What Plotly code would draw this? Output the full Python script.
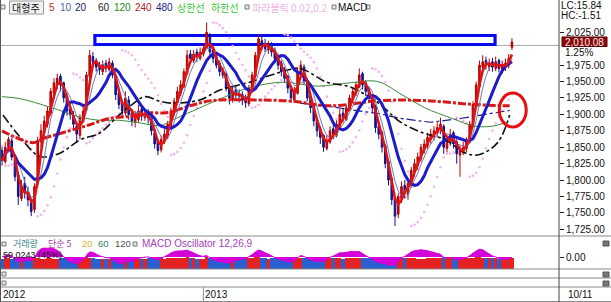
import numpy as np
import pandas as pd
import plotly.graph_objects as go

W, H = 611, 302

# ---------------- data (2-trading-day bars, Jul 2012 .. 10/11 2013) ----------------
closes = [1830, 1850, 1862, 1835, 1805, 1775, 1790, 1780, 1770, 1752,
          1790, 1860, 1875, 1890, 1905, 1935, 1948, 1955, 1945, 1925,
          1905, 1900, 1885, 1870, 1895, 1905, 1960, 1990, 1980, 1972,
          1968, 1975, 1970, 1980, 1960, 1930, 1915, 1905, 1925, 1900,
          1890, 1895, 1905, 1898, 1900, 1895, 1875, 1855, 1845, 1862,
          1870, 1885, 1905, 1920, 1935, 1945, 1965, 1990, 1985, 1992,
          1988, 1995, 2000, 2025, 1995, 1985, 1975, 1965, 1960, 1940,
          1925, 1935, 1930, 1928, 1922, 1918, 1940, 1960, 1990, 2015,
          2005, 2000, 2005, 1995, 1985, 1975, 1965, 1955, 1940, 1925,
          1935, 1965, 1975, 1950, 1925, 1910, 1890, 1875, 1865, 1850,
          1860, 1875, 1870, 1885, 1900, 1895, 1910, 1925, 1935, 1945,
          1960, 1945, 1935, 1925, 1910, 1880, 1870, 1850, 1825, 1800,
          1770, 1745, 1775, 1790, 1780, 1795, 1815, 1825, 1835, 1850,
          1855, 1865, 1870, 1875, 1880, 1885, 1850, 1860, 1870, 1855,
          1840, 1845, 1850, 1860, 1885, 1915, 1945, 1975, 1980, 1975,
          1978, 1972, 1980, 1970, 1975, 1978, 1985, 2010.08]
opens = [1845, 1828, 1850, 1860, 1832, 1808, 1772, 1795, 1782, 1768,
         1755, 1795, 1858, 1872, 1885, 1902, 1932, 1945, 1958, 1948,
         1928, 1908, 1898, 1882, 1868, 1892, 1908, 1958, 1988, 1982,
         1975, 1965, 1978, 1968, 1978, 1958, 1932, 1918, 1902, 1922,
         1902, 1888, 1892, 1908, 1895, 1902, 1895, 1872, 1858, 1846,
         1860, 1868, 1882, 1902, 1918, 1932, 1942, 1962, 1992, 1982,
         1995, 1985, 1992, 2002, 2020, 1998, 1988, 1978, 1966, 1962,
         1942, 1922, 1938, 1932, 1930, 1925, 1916, 1938, 1958, 1988,
         2012, 2008, 1998, 2006, 1998, 1988, 1978, 1968, 1958, 1942,
         1922, 1932, 1962, 1972, 1952, 1928, 1912, 1892, 1878, 1868,
         1848, 1858, 1878, 1868, 1882, 1902, 1892, 1908, 1922, 1932,
         1942, 1962, 1948, 1938, 1928, 1912, 1882, 1872, 1852, 1828,
         1802, 1772, 1748, 1772, 1792, 1778, 1792, 1812, 1822, 1832,
         1848, 1852, 1862, 1868, 1872, 1878, 1882, 1848, 1858, 1872,
         1858, 1838, 1842, 1848, 1858, 1882, 1912, 1942, 1972, 1982,
         1972, 1980, 1970, 1982, 1968, 1972, 1975, 2002]
highs = [1852, 1858, 1866, 1864, 1838, 1812, 1800, 1805, 1790, 1772,
         1795, 1866, 1885, 1898, 1912, 1940, 1955, 1962, 1962, 1950,
         1932, 1915, 1905, 1888, 1900, 1912, 1965, 1998, 1995, 1986,
         1980, 1982, 1983, 1986, 1982, 1962, 1936, 1922, 1935, 1928,
         1908, 1905, 1915, 1912, 1908, 1908, 1898, 1878, 1862, 1868,
         1878, 1890, 1910, 1925, 1942, 1952, 1970, 1998, 1998, 1998,
         2000, 2002, 2006, 2040, 2024, 2002, 1992, 1982, 1972, 1965,
         1945, 1942, 1945, 1938, 1935, 1930, 1945, 1965, 1995, 2022,
         2020, 2015, 2012, 2010, 2002, 1992, 1982, 1972, 1960, 1945,
         1942, 1972, 1982, 1976, 1955, 1932, 1915, 1896, 1882, 1870,
         1868, 1882, 1885, 1892, 1908, 1910, 1915, 1930, 1942, 1950,
         1970, 1965, 1952, 1942, 1930, 1915, 1888, 1875, 1855, 1830,
         1805, 1775, 1780, 1798, 1800, 1802, 1820, 1832, 1842, 1855,
         1862, 1872, 1878, 1882, 1888, 1895, 1885, 1868, 1878, 1875,
         1862, 1852, 1858, 1865, 1890, 1920, 1950, 1982, 1990, 1988,
         1985, 1986, 1988, 1985, 1982, 1985, 1992, 2016]
lows = [1822, 1825, 1842, 1830, 1798, 1762, 1768, 1772, 1760, 1745,
        1750, 1790, 1850, 1865, 1880, 1898, 1925, 1938, 1935, 1918,
        1898, 1892, 1878, 1856, 1862, 1888, 1905, 1955, 1972, 1965,
        1960, 1960, 1964, 1965, 1955, 1922, 1908, 1896, 1898, 1892,
        1882, 1880, 1888, 1890, 1890, 1886, 1868, 1848, 1838, 1842,
        1855, 1862, 1880, 1898, 1915, 1928, 1940, 1960, 1978, 1978,
        1980, 1982, 1988, 2000, 1990, 1978, 1970, 1958, 1955, 1935,
        1915, 1918, 1922, 1918, 1914, 1910, 1912, 1935, 1955, 1985,
        1998, 1995, 1992, 1988, 1978, 1968, 1958, 1948, 1932, 1918,
        1918, 1930, 1958, 1945, 1920, 1902, 1882, 1866, 1855, 1843,
        1845, 1855, 1862, 1865, 1878, 1888, 1890, 1905, 1918, 1928,
        1940, 1938, 1928, 1918, 1902, 1872, 1862, 1842, 1818, 1792,
        1762, 1730, 1742, 1765, 1772, 1770, 1788, 1805, 1815, 1828,
        1840, 1848, 1855, 1860, 1865, 1870, 1840, 1842, 1852, 1848,
        1825, 1805, 1838, 1842, 1855, 1880, 1910, 1940, 1968, 1968,
        1966, 1965, 1966, 1964, 1962, 1966, 1970, 1998]
volumes = [380, 410, 395, 360, 420, 440, 385, 370, 405, 430, 445, 420, 390, 375, 400, 415, 385, 370, 395, 410,
           400, 380, 420, 435, 410, 390, 445, 430, 395, 380, 370, 385, 375, 390, 410, 425, 405, 395, 380, 400,
           390, 375, 385, 380, 370, 395, 415, 430, 420, 400, 385, 395, 410, 420, 405, 395, 415, 440, 410, 395,
           380, 390, 375, 450, 430, 400, 390, 385, 395, 420, 430, 405, 390, 385, 395, 400, 410, 425, 440, 445,
           420, 400, 390, 395, 405, 400, 410, 415, 425, 430, 410, 420, 405, 415, 430, 440, 425, 420, 430, 445,
           420, 410, 400, 395, 405, 390, 400, 410, 415, 420, 430, 410, 400, 405, 420, 440, 445, 450, 455, 460,
           465, 470, 440, 425, 415, 405, 400, 395, 390, 385, 390, 395, 400, 405, 410, 420, 435, 415, 400, 410,
           425, 440, 415, 400, 420, 430, 445, 450, 425, 410, 400, 395, 405, 390, 400, 395, 410, 430]

# long moving averages (bar index, value)
ma60_idx = [0.3, 5.5, 11.7, 17.8, 24, 30.2, 35.4, 40, 44, 48.6, 52.6, 60.9, 67.1, 76.3, 85.5, 91.7, 100, 107, 115.7, 122.5, 129.5, 136.3, 143.1, 147.1, 152.6, 156.3]
ma60_val = [1899, 1866, 1836, 1841, 1861, 1872, 1896, 1915, 1927, 1920, 1917, 1922, 1937, 1949, 1964, 1970, 1949, 1942, 1918, 1889, 1872, 1862, 1840, 1839, 1857, 1899]
ma120_idx = [0, 5.5, 14.8, 24, 30.2, 36.3, 42.5, 48.6, 53.2, 60.9, 65.5, 71.7, 76.3, 86.5, 97, 107, 115.7, 123.1, 130.2, 138.5, 145.6, 150.9, 154.8]
ma120_val = [1927, 1924, 1911, 1896, 1891, 1891, 1887, 1883, 1893, 1910, 1920, 1933, 1941, 1949, 1943, 1948, 1950, 1930, 1910, 1894, 1882, 1882, 1887]
ma240_idx = [0, 9.5, 13.2, 20, 26.2, 33.2, 39.4, 44, 51.1, 58.5, 64.6, 77.9, 89.6, 101, 116.3, 130.2, 145.6, 156.3]
ma240_val = [1875, 1857, 1864, 1874, 1883, 1894, 1897, 1902, 1903, 1914, 1921, 1922, 1920, 1913, 1921, 1921, 1915, 1913]
ma480_idx = [91.7, 101, 110.2, 116.3, 122.5, 131.8, 140.1, 147.1, 156.3]
ma480_val = [1917, 1912, 1905, 1901, 1894, 1888, 1893, 1899, 1906]

year_labels = ["2012", "2013"]
year_idx = [0, 62]
last_date_label = "10/11"
price_ticks = [1725, 1750, 1775, 1800, 1825, 1850, 1875, 1900, 1925, 1950, 1975, 2025]
ref_price = 2005
last_price_text = "2,010.08"
change_text = "1.25%"
lc_text = "LC:15.84"
hc_text = "HC:-1.51"

# ---------------- geometry ----------------
AX_X = 559
X0, DX = 2.0, 3.248            # pixel of bar 0, pixels per bar
K = 0.6567                     # pixels per index point
P_REF, Y_REF = 2025, 32.3      # price at pixel row
MAIN_B, SUB1_B, SUB2_B, SUB3_B = 236, 269, 278, 287


def px(x):
    return x / W


def py(y):
    return 1 - y / H


xr = [-X0 / DX, (AX_X - X0) / DX]
yr = [P_REF - (MAIN_B - Y_REF) / K, P_REF + Y_REF / K]

n = len(closes)
idx = list(range(n))
s = pd.Series(closes, dtype=float)
ma5 = s.rolling(3, min_periods=1).mean()
ma10 = s.rolling(5, min_periods=1).mean()
ma20 = s.rolling(10, min_periods=1).mean()


def psar(h, l, af0=0.02, afmax=0.2):
    out = [h[0]]
    bull, af, ep = False, af0, l[0]
    for i in range(1, len(h)):
        prev = out[-1]
        sv = prev + af * (ep - prev)
        if bull:
            sv = min(sv, l[i - 1], l[max(i - 2, 0)])
            if l[i] < sv:
                bull, sv, ep, af = False, ep, l[i], af0
            elif h[i] > ep:
                ep, af = h[i], min(af + af0, afmax)
        else:
            sv = max(sv, h[i - 1], h[max(i - 2, 0)])
            if h[i] > sv:
                bull, sv, ep, af = True, ep, h[i], af0
            elif l[i] < ep:
                ep, af = l[i], min(af + af0, afmax)
        out.append(sv)
    return out


sar = psar(highs, lows)
macd = s.ewm(span=6, adjust=False).mean() - s.ewm(span=13, adjust=False).mean()
osc = macd - macd.ewm(span=5, adjust=False).mean()
Mp = float(osc.max())

up = [c >= o for o, c in zip(opens, closes)]
vcol = ["#e42222" if u else "#2a5fcf" for u in up]

fig = go.Figure()
fig.add_trace(go.Scatter(x=idx, y=sar, mode="markers", xaxis="x", yaxis="y",
                         marker=dict(size=2.6, color="#f2b6ee"), hoverinfo="skip"))
fig.add_trace(go.Scatter(x=ma480_idx, y=ma480_val, mode="lines", line=dict(color="#1a1a90", width=1.2, dash="dashdot")))
fig.add_trace(go.Scatter(x=ma120_idx, y=ma120_val, mode="lines", line=dict(color="#3a8c3a", width=1, shape="spline")))
fig.add_trace(go.Scatter(x=ma60_idx, y=ma60_val, mode="lines", line=dict(color="#111111", width=1.6, dash="dashdot", shape="spline")))
fig.add_trace(go.Scatter(x=ma240_idx, y=ma240_val, mode="lines", line=dict(color="#d81818", width=3, dash="8px,2px,3px,2px", shape="spline")))
fig.add_trace(go.Candlestick(x=idx, open=opens, high=highs, low=lows, close=closes,
                             increasing=dict(line=dict(color="#b80000", width=1), fillcolor="#cc1010"),
                             decreasing=dict(line=dict(color="#10108a", width=1), fillcolor="#1a1a9a"),
                             whiskerwidth=0, hoverinfo="skip"))
fig.add_trace(go.Scatter(x=idx, y=ma10, mode="lines", line=dict(color="#6a80b8", width=1)))
fig.add_trace(go.Scatter(x=idx, y=ma20, mode="lines", line=dict(color="#1c1cc8", width=3)))
fig.add_trace(go.Scatter(x=idx, y=ma5, mode="lines", line=dict(color="#e01414", width=2.6)))

# lower panel: volume + MACD oscillator
fig.add_trace(go.Bar(x=idx, y=volumes, marker=dict(color=vcol, line=dict(width=0)),
                     xaxis="x2", yaxis="y2", width=1.0))
fig.add_trace(go.Scatter(x=idx, y=osc, mode="lines", fill="tozeroy", fillcolor="#d400d8",
                         line=dict(color="#d400d8", width=1, shape="spline"), xaxis="x2", yaxis="y3"))

vmax = max(volumes)
pan_h = SUB1_B - MAIN_B
zero_y = 257
fig.update_layout(
    width=W, height=H, margin=dict(l=0, r=0, t=0, b=0),
    paper_bgcolor="white", plot_bgcolor="white", showlegend=False, bargap=0,
    font=dict(family="Liberation Sans, Arial", size=10, color="#111"),
    xaxis=dict(domain=[0, px(AX_X)], range=xr, visible=False, rangeslider=dict(visible=False), anchor="y"),
    yaxis=dict(domain=[py(MAIN_B), 1], range=yr, side="right", anchor="x",
               tickvals=price_ticks, ticktext=[f"{v:,.2f}" for v in price_ticks],
               ticks="outside", ticklen=4, tickcolor="#222", showgrid=False, zeroline=False,
               tickfont=dict(size=10, family="Liberation Sans, Arial", color="#111")),
    xaxis2=dict(domain=[0, px(AX_X)], range=xr, visible=False, anchor="y2"),
    yaxis2=dict(domain=[py(SUB1_B), py(MAIN_B)], range=[0, vmax * pan_h / 12.5], visible=False, anchor="x2"),
    yaxis3=dict(overlaying="y2", side="right", anchor="x2",
                range=[-Mp * (SUB1_B - zero_y) / 9.0, Mp * (zero_y - MAIN_B) / 9.0],
                tickvals=[0], ticktext=["0.00"], ticks="outside", ticklen=4, tickcolor="#222",
                showgrid=False, zeroline=False, tickfont=dict(size=10, color="#111")),
)

shapes = []
# reference line, annotation box and circle
shapes.append(dict(type="line", xref="x", yref="y", x0=xr[0], x1=xr[1], y0=ref_price, y1=ref_price,
                   line=dict(color="#a8a8a8", width=1), layer="below"))
shapes.append(dict(type="rect", xref="x", yref="y", x0=28.6, x1=151.8, y0=2006.4, y1=2020.1,
                   line=dict(color="#0a0af0", width=3.2), layer="below"))
shapes.append(dict(type="circle", xref="x", yref="y", x0=153.1, x1=161.4, y0=1880.8, y1=1932.6,
                   line=dict(color="#e41010", width=3)))
# frame / separators
for yy, x1 in [(MAIN_B, W), (SUB1_B, W), (SUB2_B, W), (SUB3_B, W), (301.5, W)]:
    shapes.append(dict(type="line", xref="paper", yref="paper", x0=0, x1=px(x1), y0=py(yy), y1=py(yy),
                       line=dict(color="#8a8a8a", width=1)))
shapes.append(dict(type="line", xref="paper", yref="paper", x0=px(AX_X), x1=px(AX_X), y0=0, y1=1,
                   line=dict(color="#444", width=1)))
shapes.append(dict(type="line", xref="paper", yref="paper", x0=px(0.5), x1=px(0.5), y0=0, y1=1,
                   line=dict(color="#555", width=1)))
yx = X0 + DX * year_idx[1]
shapes.append(dict(type="line", xref="paper", yref="paper", x0=px(yx), x1=px(yx), y0=py(301), y1=py(SUB3_B),
                   line=dict(color="#8a8a8a", width=1)))
# small square icons
def icon(x, y, s=4):
    return dict(type="rect", xref="paper", yref="paper", x0=px(x), x1=px(x + s), y0=py(y + s), y1=py(y),
                line=dict(color="#777", width=1), fillcolor="#e8e8e8")
for ix, iy in [(1, 5), (245, 5), (332, 5), (366, 5), (2, 242), (133, 242), (2, 272), (2, 281)]:
    shapes.append(icon(ix, iy))
for iy in [241, 272, 281]:
    shapes.append(dict(type="rect", xref="paper", yref="paper", x0=px(603), x1=px(609), y0=py(iy + 5), y1=py(iy),
                       line=dict(color="#555", width=1), fillcolor="#777"))
# button around 대형주 and last price box
shapes.append(dict(type="rect", xref="paper", yref="paper", x0=px(9.5), x1=px(43.5), y0=py(14), y1=py(1),
                   line=dict(color="#9a9a9a", width=1), fillcolor="#f2f2f2"))
shapes.append(dict(type="rect", xref="paper", yref="paper", x0=px(562), x1=px(607), y0=py(46.5), y1=py(37),
                   line=dict(color="#5a0000", width=1), fillcolor="#8a0a0a"))
fig.update_layout(shapes=shapes)

KR = "Noto Sans CJK KR, DejaVu Sans"
EN = "Liberation Sans, Arial"
ann = []
def txt(t, x, y, color="#111", fam=EN, size=10):
    ann.append(dict(text=t, x=px(x), y=py(y), xref="paper", yref="paper", xanchor="left", yanchor="middle",
                    showarrow=False, font=dict(family=fam, size=size, color=color), borderpad=0))

txt("대형주", 11, 7.5, "#111", KR)
for t, x, c in [("5", 48, "#c02828"), ("10", 59, "#4868a8"), ("20", 74, "#1c1c60"), ("60", 97, "#222"),
                ("120", 113, "#228a22"), ("240", 134, "#b02020"), ("480", 155, "#1c1c88")]:
    txt(t, x, 7.5, c)
txt("상한선", 176, 7.5, "#3cc83c", KR)
txt("하한선", 210, 7.5, "#3cc83c", KR)
txt("파라볼릭 0.02,0.2", 251, 7.5, "#f0b4e6", KR)
txt("MACD", 337, 7.5, "#111")
txt(lc_text, 560, 5.5)
txt(hc_text, 560, 15.5)
txt(last_price_text, 564, 42, "#f0e8e8")
txt(change_text, 564, 52)
LY = 243.5
txt("거래량", 12, LY, "#3a8a8a", KR, 9)
txt("단순 5", 47, LY, "#a03ca0", KR, 9)
txt("20", 81, LY, "#e0b030", EN, 9.5)
txt("60", 97, LY, "#2e8060", EN, 9.5)
txt("120", 114, LY, "#505050", EN, 9.5)
txt("MACD Oscillator 12,26,9", 141, LY, "#a43cc0", EN, 10)
txt("59,0243 (45%)", 2, 255, "#111", EN, 9)
for lab, i in zip(year_labels, year_idx):
    txt(lab, X0 + DX * i + (0 if i == 0 else 1), 294)
txt(last_date_label, 567, 294)
fig.update_layout(annotations=ann)

fig.write_html("out.html")
